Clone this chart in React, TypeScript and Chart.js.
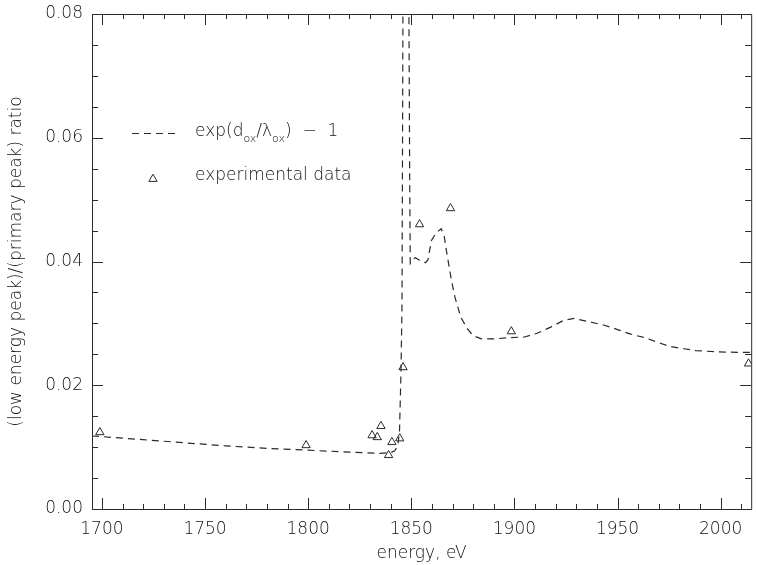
import React, { useEffect, useRef } from "react";
import { Chart, registerables } from "chart.js";

Chart.register(...registerables);

const curveX = [1695.2, 1700, 1720, 1740, 1760, 1780, 1800, 1820, 1835, 1840, 1842, 1843.5, 1844.3, 1845.0, 1845.5, 1846.0, 1846.3, 1848.5, 1848.8, 1849.2, 1849.5, 1850.5, 1852, 1854, 1856.8, 1858, 1859.8, 1862, 1864.5, 1866, 1867, 1869.5, 1871.2, 1874, 1877, 1880, 1884, 1890.7, 1898, 1905, 1911, 1917.6, 1924, 1929, 1937, 1943.6, 1950, 1956, 1963, 1969, 1975, 1982, 1988, 1998, 2011, 2015];
const curveY = [0.0118, 0.0117, 0.0112, 0.0107, 0.0102, 0.0098, 0.0095, 0.0092, 0.0090, 0.0091, 0.0094, 0.0103, 0.0127, 0.022, 0.033, 0.085, 0.13, 0.13, 0.085, 0.055, 0.0397, 0.0403, 0.0406, 0.0402, 0.0398, 0.0402, 0.0434, 0.0446, 0.0453, 0.0440, 0.0418, 0.0369, 0.0342, 0.0310, 0.0292, 0.0280, 0.0275, 0.0275, 0.0277, 0.0278, 0.0284, 0.0294, 0.0305, 0.0308, 0.0302, 0.0297, 0.0290, 0.0283, 0.0277, 0.0270, 0.0263, 0.0259, 0.0256, 0.0254, 0.0253, 0.0253];

const expX = [1699, 1799, 1831, 1833.5, 1835.3, 1839, 1840.6, 1844.4, 1846, 1854, 1869, 1898.5, 2013.5];
const expY = [0.0124, 0.0103, 0.0119, 0.0116, 0.0134, 0.0087, 0.0108, 0.0114, 0.0229, 0.0460, 0.0486, 0.0287, 0.0235];

const xTicks = [1700, 1750, 1800, 1850, 1900, 1950, 2000];
const yTicks = [0, 0.02, 0.04, 0.06, 0.08];
const xMin = 1695.2;
const xMax = 2014.8;
const yMin = 0;
const yMax = 0.08;

const FONT = "'DejaVu Sans', sans-serif";
const INK = "#2a2a2a";
const TEXT = "#111";

const framePlugin = {
  id: "frame",
  afterDraw(chart: any) {
    const { ctx, chartArea } = chart;
    const { left, right, top, bottom } = chartArea;
    const xs = chart.scales.x;
    const ys = chart.scales.y;
    ctx.save();
    ctx.strokeStyle = INK;
    ctx.lineWidth = 1;
    ctx.setLineDash([]);
    ctx.beginPath();
    ctx.rect(left + 0.5, top + 0.5, right - left, bottom - top);
    ctx.stroke();
    for (let v = 1700; v <= xMax; v += 10) {
      const px = Math.round(xs.getPixelForValue(v)) + 0.5;
      const major = v % 50 === 0;
      const len = major ? 11 : 5;
      ctx.beginPath();
      ctx.moveTo(px, bottom);
      ctx.lineTo(px, bottom - len);
      ctx.moveTo(px, top);
      ctx.lineTo(px, top + len);
      ctx.stroke();
    }
    for (let i = 0; i <= 16; i++) {
      const v = i * 0.005;
      const py = Math.round(ys.getPixelForValue(v)) + 0.5;
      const major = i % 4 === 0;
      const len = major ? 11 : 6;
      ctx.beginPath();
      ctx.moveTo(left, py);
      ctx.lineTo(left + len, py);
      ctx.moveTo(right, py);
      ctx.lineTo(right - len, py);
      ctx.stroke();
    }
    const lx = left + 40;
    const ly1 = top + 119;
    const ly2 = top + 163;
    ctx.setLineDash([7, 5]);
    ctx.beginPath();
    ctx.moveTo(lx, ly1 + 0.5);
    ctx.lineTo(lx + 44, ly1 + 0.5);
    ctx.stroke();
    ctx.setLineDash([]);
    const tx = lx + 21;
    const ty = ly2 + 2;
    const r = 4.8;
    ctx.beginPath();
    ctx.moveTo(tx, ty - r);
    ctx.lineTo(tx + r * 0.866, ty + r * 0.5);
    ctx.lineTo(tx - r * 0.866, ty + r * 0.5);
    ctx.closePath();
    ctx.stroke();
    ctx.fillStyle = TEXT;
    ctx.textBaseline = "middle";
    ctx.textAlign = "left";
    const big = "200 17px " + FONT;
    const small = "200 11px " + FONT;
    let x = lx + 63;
    const parts: [string, boolean][] = [["exp(d", false], ["ox", true], ["/\u03bb", false], ["ox", true], [")  \u2212  1", false]];
    for (const [s, sub] of parts) {
      ctx.font = sub ? small : big;
      ctx.fillText(s, x, sub ? ly1 + 6 : ly1 - 1);
      x += ctx.measureText(s).width;
    }
    ctx.font = big;
    ctx.fillText("experimental data", lx + 63, ly2 - 1);
    ctx.restore();
  },
};

export default function App() {
  const ref = useRef<HTMLCanvasElement>(null);
  useEffect(() => {
    document.body.style.margin = "0";
    const canvas = ref.current!;
    const chart = new Chart(canvas, {
      type: "line",
      data: {
        datasets: [
          {
            label: "curve",
            data: curveX.map((x, i) => ({ x, y: curveY[i] })),
            borderColor: INK,
            borderWidth: 1.2,
            borderDash: [7, 5],
            pointRadius: 0,
            tension: 0,
            fill: false,
          },
          {
            label: "experimental data",
            data: expX.map((x, i) => ({ x, y: expY[i] })),
            showLine: false,
            pointStyle: "triangle",
            pointRadius: 4.8,
            pointBorderWidth: 1,
            pointBorderColor: INK,
            pointBackgroundColor: "rgba(0,0,0,0)",
            borderColor: INK,
          },
        ],
      },
      options: {
        animation: false,
        responsive: false,
        maintainAspectRatio: false,
        layout: { padding: { top: 14, right: 3, left: 0, bottom: 0 } },
        plugins: { legend: { display: false }, tooltip: { enabled: false } },
        scales: {
          x: {
            type: "linear",
            min: xMin,
            max: xMax,
            afterBuildTicks: (s: any) => {
              s.ticks = xTicks.map((v) => ({ value: v }));
            },
            afterFit: (s: any) => {
              s.height = 56;
              s.paddingLeft = 0;
              s.paddingRight = 0;
            },
            grid: { display: false, drawTicks: false },
            border: { display: false },
            ticks: {
              color: TEXT,
              font: { family: FONT, size: 17, weight: "200" },
              padding: 10,
              maxRotation: 0,
              autoSkip: false,
              callback: (v: any) => String(v),
            },
            title: {
              display: true,
              text: "energy, eV",
              color: TEXT,
              font: { family: FONT, size: 17, weight: "200" },
              padding: { top: 0, bottom: 1 },
            },
          },
          y: {
            type: "linear",
            min: yMin,
            max: yMax,
            afterBuildTicks: (s: any) => {
              s.ticks = yTicks.map((v) => ({ value: v }));
            },
            afterFit: (s: any) => {
              s.width = 92;
              s.paddingTop = 0;
              s.paddingBottom = 0;
            },
            grid: { display: false, drawTicks: false },
            border: { display: false },
            ticks: {
              color: TEXT,
              font: { family: FONT, size: 17, weight: "200" },
              padding: 9,
              callback: (v: any) => Number(v).toFixed(2),
            },
            title: {
              display: true,
              text: "(low energy peak)/(primary peak) ratio",
              color: TEXT,
              font: { family: FONT, size: 17, weight: "200" },
              padding: { top: 6, bottom: 0 },
            },
          },
        },
      },
      plugins: [framePlugin],
    });
    return () => chart.destroy();
  }, []);
  return (
    <div style={{ width: 757, height: 565, background: "#fff" }}>
      <canvas ref={ref} width={757} height={565} style={{ display: "block" }} />
    </div>
  );
}
